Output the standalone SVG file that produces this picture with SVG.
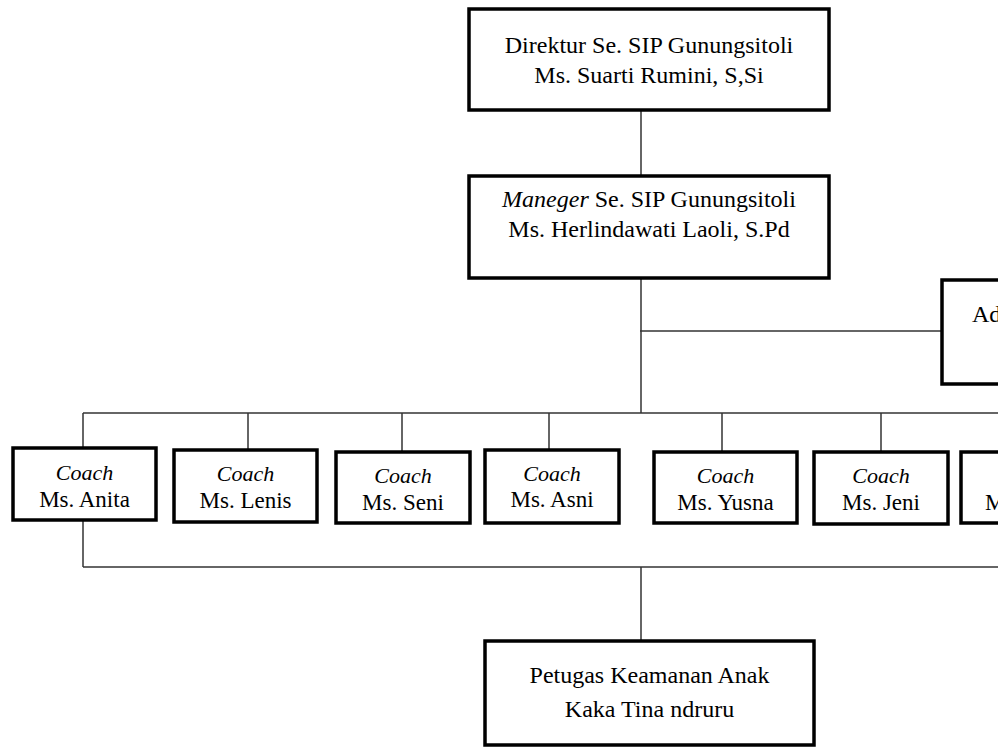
<svg xmlns="http://www.w3.org/2000/svg" width="998" height="747" viewBox="0 0 998 747">
<style>
.box{fill:#fff;stroke:#000;stroke-width:3.5}
.ln{fill:none;stroke:#333;stroke-width:1.5}
text{font-family:"Liberation Serif","Times New Roman",serif;fill:#000}
.big{font-size:24px;text-anchor:middle}
.sm{font-size:23px;text-anchor:middle}
.it{font-style:italic}
</style>
<rect width="998" height="747" fill="#fff"/>
<g id="connectors">
<line class="ln" x1="641" y1="110" x2="641" y2="176"/>
<line class="ln" x1="641" y1="278" x2="641" y2="413"/>
<line class="ln" x1="640" y1="331" x2="942" y2="331"/>
<line class="ln" x1="83" y1="413" x2="998" y2="413"/>
<line class="ln" x1="83" y1="413" x2="83" y2="448"/>
<line class="ln" x1="248" y1="413" x2="248" y2="450"/>
<line class="ln" x1="402" y1="413" x2="402" y2="452"/>
<line class="ln" x1="549" y1="413" x2="549" y2="450"/>
<line class="ln" x1="722" y1="413" x2="722" y2="452"/>
<line class="ln" x1="881" y1="413" x2="881" y2="452"/>
<line class="ln" x1="83" y1="520" x2="83" y2="567"/>
<line class="ln" x1="83" y1="567" x2="998" y2="567"/>
<line class="ln" x1="641" y1="567" x2="641" y2="641"/>
</g>
<g id="direktur">
<rect class="box" x="469" y="9" width="360" height="101"/>
<text class="big" x="649" y="53">Direktur Se. SIP Gunungsitoli</text>
<text class="big" x="649" y="83">Ms. Suarti Rumini, S,Si</text>
</g>
<g id="manager">
<rect class="box" x="469" y="176" width="360" height="102"/>
<text class="big" x="649" y="207"><tspan class="it">Maneger</tspan> Se. SIP Gunungsitoli</text>
<text class="big" x="649" y="237">Ms. Herlindawati Laoli, S.Pd</text>
</g>
<g id="admin">
<rect class="box" x="942" y="280" width="120" height="104"/>
<text style="font-size:24px" x="972" y="322">Ad</text>
</g>
<g id="coach-anita">
<rect class="box" x="13" y="448" width="143" height="72"/>
<text class="sm it" x="84.5" y="480" style="font-size:22px">Coach</text>
<text class="sm" x="84.5" y="507">Ms. Anita</text>
</g>
<g id="coach-lenis">
<rect class="box" x="174" y="450" width="143" height="72"/>
<text class="sm it" x="245.5" y="481" style="font-size:22px">Coach</text>
<text class="sm" x="245.5" y="508">Ms. Lenis</text>
</g>
<g id="coach-seni">
<rect class="box" x="336" y="452" width="134" height="71"/>
<text class="sm it" x="403" y="483" style="font-size:22px">Coach</text>
<text class="sm" x="403" y="510">Ms. Seni</text>
</g>
<g id="coach-asni">
<rect class="box" x="485" y="450" width="134" height="73"/>
<text class="sm it" x="552" y="481" style="font-size:22px">Coach</text>
<text class="sm" x="552" y="507">Ms. Asni</text>
</g>
<g id="coach-yusna">
<rect class="box" x="654" y="452" width="143" height="71"/>
<text class="sm it" x="725.5" y="483" style="font-size:22px">Coach</text>
<text class="sm" x="725.5" y="510">Ms. Yusna</text>
</g>
<g id="coach-jeni">
<rect class="box" x="814" y="452" width="134" height="72"/>
<text class="sm it" x="881" y="483" style="font-size:22px">Coach</text>
<text class="sm" x="881" y="510">Ms. Jeni</text>
</g>
<g id="coach-last">
<rect class="box" x="961" y="452" width="140" height="71"/>
<text style="font-size:23px" x="985" y="510">M</text>
</g>
<g id="petugas">
<rect class="box" x="485" y="641" width="329" height="104"/>
<text class="big" x="649.5" y="683">Petugas Keamanan Anak</text>
<text class="big" x="649.5" y="717">Kaka Tina ndruru</text>
</g>
</svg>
